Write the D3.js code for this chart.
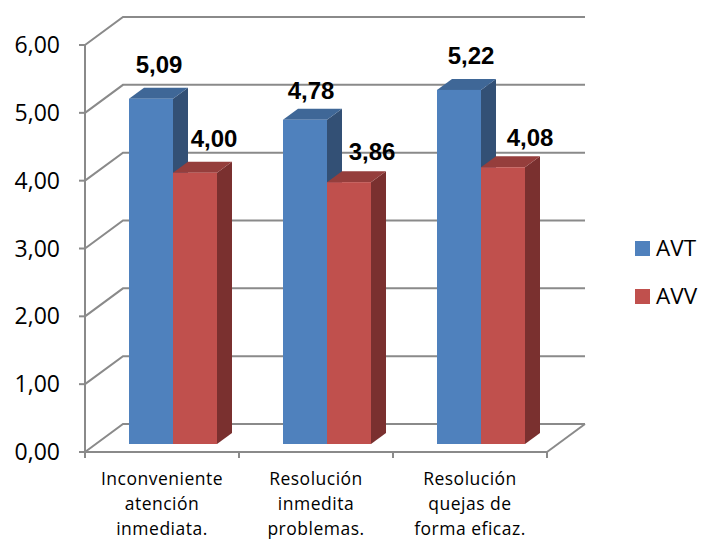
<!DOCTYPE html>
<html>
<head>
<meta charset="utf-8">
<script src="https://cdn.jsdelivr.net/npm/d3@7"></script>
<style>
  html, body { margin: 0; padding: 0; background: #fff; }
  svg { display: block; }
</style>
</head>
<body>
<div id="chart"></div>
<script>
const categories = [
    ["Inconveniente", "atención", "inmediata."],
    ["Resolución", "inmedita", "problemas."],
    ["Resolución", "quejas de", "forma eficaz."]
];
const seriesNames = ["AVT", "AVV"];
const avtValues = [5.09, 4.78, 5.22];
const avvValues = [4.00, 3.86, 4.08];
const yTicks = [0, 1, 2, 3, 4, 5, 6];

const width = 702, height = 541;
const frontFill = ["#4f81bd", "#c0504d"];
const topFill = ["#3f6797", "#953e3c"];
const sideFill = ["#335075", "#7a302f"];
const axisColor = "#8a8a8a";

// wall depth and bar depth of the fake 3D box
const wallDx = 38, wallDy = -28;
const barDx = 15, barDy = -11;
const floorDx = 11, floorDy = -8;

const svg = d3.select("#chart").append("svg")
    .attr("width", width)
    .attr("height", height);

const y = d3.scaleLinear().domain([0, 6]).range([452, 45]);
const x0 = d3.scaleBand().domain(d3.range(categories.length)).range([85, 547]);
const x1 = d3.scaleBand().domain(d3.range(seriesNames.length)).range([0, 88]);
const barPad = 33;

const fmt = v => d3.format(".2f")(v).replace(".", ",");

// Gridlines on the walls
const grid = svg.append("g").attr("fill", "none").attr("stroke", axisColor).attr("stroke-width", 2);
yTicks.forEach(t => {
    grid.append("polyline")
        .attr("points", [
            [x0.range()[0], y(t)],
            [x0.range()[0] + wallDx, y(t) + wallDy],
            [x0.range()[1] + wallDx, y(t) + wallDy]
        ].join(" "));
    grid.append("line")
        .attr("x1", x0.range()[0] - 6).attr("x2", x0.range()[0])
        .attr("y1", y(t)).attr("y2", y(t));
});

// Floor and axes
grid.append("line")
    .attr("x1", x0.range()[0]).attr("x2", x0.range()[0])
    .attr("y1", y(6)).attr("y2", y(0));
grid.append("line")
    .attr("x1", x0.range()[0]).attr("x2", x0.range()[1])
    .attr("y1", y(0)).attr("y2", y(0));
grid.append("line")
    .attr("x1", x0.range()[1]).attr("x2", x0.range()[1] + wallDx)
    .attr("y1", y(0)).attr("y2", y(0) + wallDy);
d3.range(categories.length + 1).forEach(i => {
    const px = x0.range()[0] + i * x0.bandwidth();
    grid.append("line")
        .attr("x1", px).attr("x2", px)
        .attr("y1", y(0)).attr("y2", y(0) + 6);
});

// Bars
const bars = svg.append("g");
[avtValues, avvValues].forEach((vals, s) => {
    vals.forEach((v, i) => {
        const left = x0(i) + floorDx + barPad + x1(s);
        const right = left + x1.bandwidth();
        const base = y(0) + floorDy;
        const top = y(v) + floorDy;

        bars.append("polygon").attr("fill", sideFill[s])
            .attr("points", [[right, top], [right + barDx, top + barDy], [right + barDx, base + barDy], [right, base]].join(" "));
        bars.append("polygon").attr("fill", topFill[s])
            .attr("points", [[left, top], [left + barDx, top + barDy], [right + barDx, top + barDy], [right, top]].join(" "));
        bars.append("rect").attr("fill", frontFill[s])
            .attr("x", left).attr("y", top)
            .attr("width", right - left).attr("height", base - top);
    });
});

// Value labels, nudged by hand like the original
const labelNudge = [
    [[8, -26], [19, -26]],
    [[6, -21], [23, -22]],
    [[12, -26], [27, -21]]
];
[avtValues, avvValues].forEach((vals, s) => {
    vals.forEach((v, i) => {
        const cx = x0(i) + floorDx + barPad + x1(s) + x1.bandwidth() / 2;
        svg.append("text")
            .attr("x", cx + labelNudge[i][s][0])
            .attr("y", y(v) + floorDy + labelNudge[i][s][1])
            .attr("text-anchor", "middle")
            .attr("font-family", "Liberation Sans")
            .attr("font-weight", "bold")
            .attr("font-size", 24)
            .attr("fill", "#000")
            .text(fmt(v));
    });
});

// Y tick labels
yTicks.forEach(t => {
    svg.append("text")
        .attr("x", 60)
        .attr("y", y(t) + 8)
        .attr("text-anchor", "end")
        .attr("font-family", "Open Sans")
        .attr("font-size", 23)
        .attr("fill", "#000")
        .text(fmt(t));
});

// Category labels
categories.forEach((lines, i) => {
    lines.forEach((line, j) => {
        svg.append("text")
            .attr("x", x0(i) + x0.bandwidth() / 2)
            .attr("y", 485 + j * 25)
            .attr("text-anchor", "middle")
            .attr("font-family", "Open Sans")
            .attr("font-size", 17.5)
            .attr("letter-spacing", 0.5)
            .attr("fill", "#000")
            .text(line);
    });
});

// Legend
seriesNames.forEach((name, s) => {
    const ly = 241 + s * 48;
    svg.append("rect")
        .attr("x", 635).attr("y", ly)
        .attr("width", 15).attr("height", 15)
        .attr("fill", frontFill[s]);
    svg.append("text")
        .attr("x", 656).attr("y", ly + 15)
        .attr("font-family", "Open Sans")
        .attr("font-size", 22.5)
        .attr("fill", "#000")
        .text(name);
});
</script>
</body>
</html>
